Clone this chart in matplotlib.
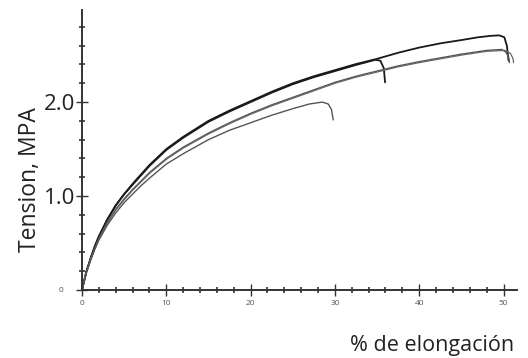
import matplotlib
matplotlib.use("Agg")
import matplotlib.pyplot as plt
from matplotlib.ticker import MultipleLocator
import matplotlib.transforms as mtransforms

# Curve A (top, ends ~50)
a_x = [0, 0.5, 1, 1.5, 2, 3, 4, 5, 6, 7, 8, 10, 12, 15, 17.5, 20, 22.5, 25, 27.5, 30, 32.5, 35, 37.5, 40, 42.5, 45, 47, 48.5, 49.5, 50.1, 50.4, 50.6]
a_y = [0, 0.19, 0.33, 0.46, 0.57, 0.75, 0.90, 1.02, 1.13, 1.23, 1.33, 1.50, 1.63, 1.80, 1.91, 2.01, 2.11, 2.20, 2.275, 2.34, 2.405, 2.46, 2.525, 2.58, 2.625, 2.66, 2.69, 2.705, 2.71, 2.69, 2.60, 2.44]
# Curve B (top, ends ~36)
b_x = [0, 0.5, 1, 1.5, 2, 3, 4, 5, 6, 7, 8, 10, 12, 15, 17.5, 20, 22.5, 25, 27.5, 30, 32.5, 34.8, 35.4, 35.8, 35.95]
b_y = [0, 0.19, 0.33, 0.46, 0.57, 0.75, 0.90, 1.02, 1.12, 1.22, 1.32, 1.49, 1.62, 1.79, 1.90, 2.00, 2.10, 2.19, 2.265, 2.33, 2.395, 2.45, 2.44, 2.36, 2.21]
# Curve C (middle, ends ~50.5)
c_x = [0, 0.5, 1, 1.5, 2, 3, 4, 5, 6, 7, 8, 10, 12, 15, 17.5, 20, 22.5, 25, 27.5, 30, 32.5, 35, 37.5, 40, 42.5, 45, 48, 49.8, 50.3, 50.6, 50.7]
c_y = [0, 0.18, 0.32, 0.44, 0.55, 0.72, 0.86, 0.97, 1.07, 1.16, 1.25, 1.40, 1.52, 1.67, 1.78, 1.88, 1.97, 2.05, 2.13, 2.21, 2.275, 2.33, 2.385, 2.43, 2.47, 2.51, 2.55, 2.56, 2.53, 2.48, 2.42]
# Curve E (middle, ends ~51)
e_x = [0, 0.5, 1, 1.5, 2, 3, 4, 5, 6, 7, 8, 10, 12, 15, 17.5, 20, 22.5, 25, 27.5, 30, 32.5, 35, 37.5, 40, 42.5, 45, 48, 50.2, 50.8, 51.1, 51.2]
e_y = [0, 0.18, 0.32, 0.43, 0.54, 0.71, 0.85, 0.96, 1.06, 1.15, 1.24, 1.39, 1.51, 1.66, 1.77, 1.87, 1.96, 2.04, 2.12, 2.20, 2.265, 2.32, 2.375, 2.42, 2.46, 2.50, 2.54, 2.55, 2.52, 2.47, 2.42]
# Curve D (lower, ends ~30)
d_x = [0, 0.5, 1, 1.5, 2, 3, 4, 5, 6, 7, 8, 10, 12, 15, 17.5, 20, 22.5, 25, 27, 28.5, 29.2, 29.6, 29.8]
d_y = [0, 0.18, 0.31, 0.43, 0.53, 0.69, 0.82, 0.93, 1.02, 1.11, 1.19, 1.34, 1.45, 1.60, 1.70, 1.78, 1.86, 1.93, 1.98, 2.00, 1.98, 1.92, 1.81]

x_ticks = [0, 10, 20, 30, 40, 50]
y_ticks = [0, 1.0, 2.0]
y_labels = ["0", "1.0", "2.0"]

plt.rcParams['font.family'] = ['Open Sans', 'DejaVu Sans']

fig = plt.figure(figsize=(5.28, 3.58), dpi=100)
ax = fig.add_axes([82/528, 68/358, 435/528, 280/358])
ax.set_xlim(0, 51.6)
ax.set_ylim(0, 2.98)

for xs, ys, c, lw in [(a_x, a_y, '#1a1a1a', 1.3), (b_x, b_y, '#1a1a1a', 1.3),
                      (c_x, c_y, '#555555', 1.0), (e_x, e_y, '#666666', 0.9),
                      (d_x, d_y, '#555555', 1.0)]:
    ax.plot(xs, ys, color=c, lw=lw, solid_capstyle='round', solid_joinstyle='round')

for s in ['top', 'right']:
    ax.spines[s].set_visible(False)
for s in ['left', 'bottom']:
    ax.spines[s].set_linewidth(1.4)
    ax.spines[s].set_color('#333333')

ax.set_xticks(x_ticks)
ax.set_xticklabels([str(v) for v in x_ticks])
ax.set_yticks(y_ticks)
ax.set_yticklabels(y_labels)
ax.xaxis.set_minor_locator(MultipleLocator(2))
ax.yaxis.set_minor_locator(MultipleLocator(0.2))

ax.tick_params(axis='x', which='major', direction='inout', length=8, width=1.0,
               labelsize=6, labelcolor='#555555', color='#333333', pad=3)
ax.tick_params(axis='x', which='minor', direction='inout', length=4, width=1.2, color='#333333')
ax.tick_params(axis='y', which='major', direction='inout', length=8, width=1.0,
               labelsize=16, color='#333333', pad=1, labelcolor='#222222')
ax.tick_params(axis='y', which='minor', direction='inout', length=4, width=1.2, color='#333333')
zero_lbl = ax.get_yticklabels()[0]
zero_lbl.set_fontsize(6)
zero_lbl.set_color('#555555')
zero_lbl.set_transform(zero_lbl.get_transform() +
                       mtransforms.ScaledTranslation(-12/100, 0, fig.dpi_scale_trans))

fig.text(30/528, 1 - 180/358, "Tension, MPA", rotation=90, fontsize=16.5,
         ha='center', va='center', color='#222222')
fig.text(432/528, 1 - 345/358, "% de elongación", fontsize=15.5,
         ha='center', va='center', color='#222222')

fig.savefig("out.png", dpi=100)
